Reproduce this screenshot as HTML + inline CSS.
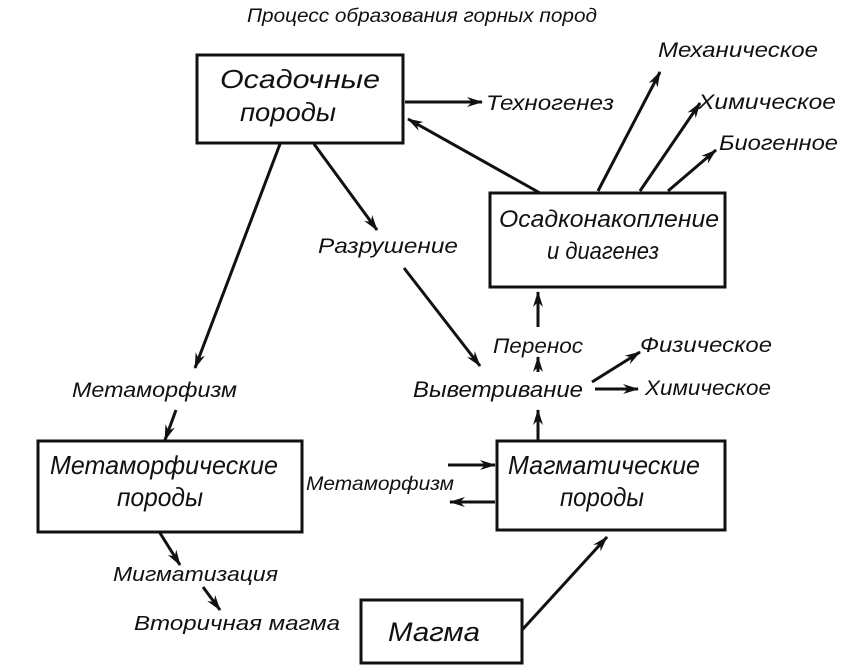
<!DOCTYPE html>
<html><head><meta charset="utf-8"><style>
html,body{margin:0;padding:0;background:#fff;}
svg{display:block}
text{font-family:"Liberation Sans","DejaVu Sans",sans-serif;font-style:italic;fill:#111;}
</style></head><body>
<svg width="862" height="666" viewBox="0 0 862 666" xmlns="http://www.w3.org/2000/svg">
<defs>
<marker id="a" viewBox="0 0 16 10" refX="15" refY="5" markerWidth="16" markerHeight="10" markerUnits="userSpaceOnUse" orient="auto">
<path d="M0,0 L16,5 L0,10 L5,5 Z" fill="#111"/></marker>
</defs>
<g fill="none" stroke="#111" stroke-width="3">
<rect x="197" y="55" width="206" height="88"/>
<rect x="490" y="193" width="235" height="94"/>
<rect x="38" y="441" width="264" height="91"/>
<rect x="497" y="441" width="228" height="89"/>
<rect x="361" y="600" width="161" height="63"/>
</g>
<g stroke="#111" stroke-width="3" fill="none" marker-end="url(#a)">
<line x1="405" y1="102" x2="482" y2="102"/>
<line x1="540" y1="193" x2="408" y2="119"/>
<line x1="598" y1="191" x2="660" y2="72"/>
<line x1="640" y1="191" x2="700" y2="103"/>
<line x1="668" y1="191" x2="716" y2="150"/>
<line x1="314" y1="144" x2="377" y2="230"/>
<line x1="404" y1="268" x2="480" y2="366"/>
<line x1="280" y1="144" x2="195" y2="368"/>
<line x1="176" y1="410" x2="165" y2="440"/>
<line x1="538" y1="441" x2="538" y2="410"/>
<line x1="538" y1="372" x2="538" y2="357"/>
<line x1="538" y1="327" x2="538" y2="292"/>
<line x1="592" y1="382" x2="640" y2="352"/>
<line x1="595" y1="389" x2="638" y2="389"/>
<line x1="448" y1="465" x2="495" y2="465"/>
<line x1="495" y1="502" x2="450" y2="502"/>
<line x1="160" y1="533" x2="180" y2="565"/>
<line x1="203" y1="587" x2="220" y2="610"/>
<line x1="522" y1="630" x2="607" y2="537"/>
</g>
<g font-size="21">
<text x="247" y="22" font-size="19" textLength="350" lengthAdjust="spacingAndGlyphs">Процесс образования горных пород</text>
<text x="220" y="88" font-size="26" textLength="160" lengthAdjust="spacingAndGlyphs">Осадочные</text>
<text x="240" y="121" font-size="26" textLength="96" lengthAdjust="spacingAndGlyphs">породы</text>
<text x="486" y="110" textLength="128" lengthAdjust="spacingAndGlyphs">Техногенез</text>
<text x="658" y="57" textLength="160" lengthAdjust="spacingAndGlyphs">Механическое</text>
<text x="698" y="109" textLength="138" lengthAdjust="spacingAndGlyphs">Химическое</text>
<text x="719" y="150" textLength="119" lengthAdjust="spacingAndGlyphs">Биогенное</text>
<text x="499" y="227" font-size="24" textLength="220" lengthAdjust="spacingAndGlyphs">Осадконакопление</text>
<text x="547" y="259" font-size="24" textLength="112" lengthAdjust="spacingAndGlyphs">и диагенез</text>
<text x="318" y="253" textLength="140" lengthAdjust="spacingAndGlyphs">Разрушение</text>
<text x="493" y="353" textLength="90" lengthAdjust="spacingAndGlyphs">Перенос</text>
<text x="413" y="397" font-size="22" textLength="170" lengthAdjust="spacingAndGlyphs">Выветривание</text>
<text x="640" y="352" textLength="132" lengthAdjust="spacingAndGlyphs">Физическое</text>
<text x="645" y="395" textLength="126" lengthAdjust="spacingAndGlyphs">Химическое</text>
<text x="72" y="397" textLength="165" lengthAdjust="spacingAndGlyphs">Метаморфизм</text>
<text x="50" y="474" font-size="26" textLength="228" lengthAdjust="spacingAndGlyphs">Метаморфические</text>
<text x="117" y="506" font-size="26" textLength="86" lengthAdjust="spacingAndGlyphs">породы</text>
<text x="306" y="490" font-size="19" textLength="148" lengthAdjust="spacingAndGlyphs">Метаморфизм</text>
<text x="508" y="474" font-size="26" textLength="192" lengthAdjust="spacingAndGlyphs">Магматические</text>
<text x="560" y="506" font-size="26" textLength="84" lengthAdjust="spacingAndGlyphs">породы</text>
<text x="113" y="581" font-size="20" textLength="165" lengthAdjust="spacingAndGlyphs">Мигматизация</text>
<text x="134" y="630" font-size="20" textLength="206" lengthAdjust="spacingAndGlyphs">Вторичная магма</text>
<text x="388" y="641" font-size="27" textLength="92" lengthAdjust="spacingAndGlyphs">Магма</text>
</g>
</svg>
</body></html>
